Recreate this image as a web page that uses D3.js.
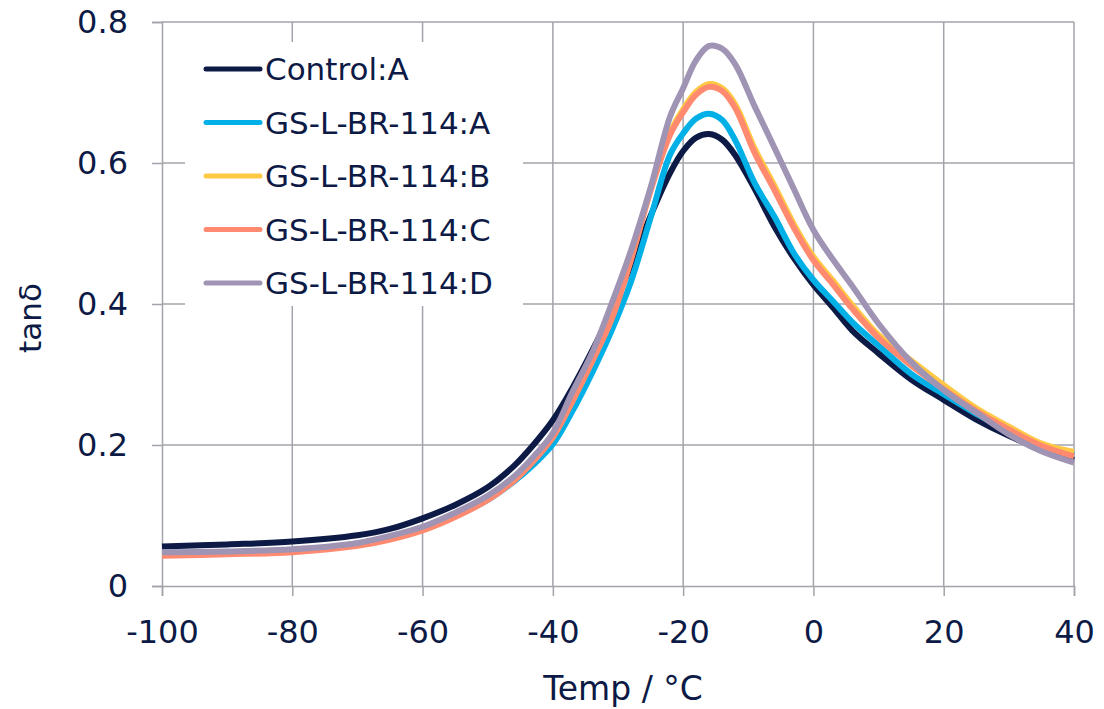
<!DOCTYPE html>
<html>
<head>
<meta charset="utf-8">
<script src="https://cdn.jsdelivr.net/npm/d3@7"></script>
<style>
  body { margin: 0; background: #fff; }
  text { font-family: "DejaVu Sans", sans-serif; fill: #0c1a45; }
</style>
</head>
<body>
<script>
// temperatures (°C) shared by every series
const temps = [-100, -90, -80, -70, -65, -60, -55, -50, -46, -43, -40, -37, -34, -31, -28, -25, -22, -20, -18, -16, -14, -12, -9, -6, -3, 0, 3, 6, 10, 15, 20, 25, 30, 35, 40];

// tan delta
const controlA = [0.056, 0.059, 0.063, 0.072, 0.081, 0.096, 0.115, 0.140, 0.170, 0.200, 0.235, 0.281, 0.333, 0.390, 0.455, 0.525, 0.586, 0.617, 0.636, 0.641, 0.633, 0.611, 0.563, 0.510, 0.465, 0.427, 0.395, 0.362, 0.330, 0.293, 0.264, 0.236, 0.213, 0.194, 0.179];
const gsA = [0.047, 0.048, 0.051, 0.059, 0.068, 0.081, 0.099, 0.122, 0.148, 0.172, 0.201, 0.248, 0.302, 0.362, 0.432, 0.522, 0.612, 0.642, 0.663, 0.670, 0.661, 0.632, 0.571, 0.524, 0.472, 0.434, 0.404, 0.374, 0.341, 0.301, 0.272, 0.244, 0.220, 0.200, 0.186];
const gsB = [0.045, 0.047, 0.050, 0.058, 0.067, 0.080, 0.099, 0.123, 0.150, 0.178, 0.212, 0.263, 0.319, 0.380, 0.465, 0.563, 0.643, 0.676, 0.701, 0.712, 0.706, 0.683, 0.620, 0.568, 0.513, 0.467, 0.433, 0.398, 0.356, 0.320, 0.285, 0.252, 0.226, 0.202, 0.190];
const gsC = [0.043, 0.045, 0.048, 0.057, 0.066, 0.079, 0.098, 0.122, 0.149, 0.177, 0.211, 0.262, 0.318, 0.378, 0.463, 0.561, 0.640, 0.672, 0.697, 0.708, 0.702, 0.678, 0.614, 0.562, 0.508, 0.462, 0.428, 0.393, 0.352, 0.313, 0.279, 0.248, 0.222, 0.199, 0.184];
const gsD = [0.048, 0.049, 0.052, 0.061, 0.071, 0.084, 0.104, 0.128, 0.155, 0.183, 0.217, 0.275, 0.330, 0.400, 0.476, 0.565, 0.666, 0.706, 0.746, 0.766, 0.762, 0.740, 0.680, 0.622, 0.563, 0.505, 0.463, 0.425, 0.372, 0.318, 0.278, 0.246, 0.215, 0.191, 0.175];

const seriesNames = ["Control:A", "GS-L-BR-114:A", "GS-L-BR-114:B", "GS-L-BR-114:C", "GS-L-BR-114:D"];
const seriesValues = [controlA, gsA, gsB, gsC, gsD];
const seriesColors = ["#0c1a45", "#00b0e6", "#ffc845", "#ff8a70", "#a094b4"];

const xTicks = [-100, -80, -60, -40, -20, 0, 20, 40];
const yTicks = [0, 0.2, 0.4, 0.6, 0.8];

const width = 1104, height = 709;
const margin = {top: 22, right: 30, bottom: 123, left: 162};

const svg = d3.select("body").append("svg")
    .attr("width", width)
    .attr("height", height);

const x = d3.scaleLinear().domain([-100, 40]).range([margin.left, width - margin.right]);
const y = d3.scaleLinear().domain([0, 0.8]).range([height - margin.bottom, margin.top]);

const grid = "#a3a3ab";

// gridlines
svg.append("g")
  .selectAll("line")
  .data(xTicks.slice(1))
  .join("line")
    .attr("x1", d => x(d)).attr("x2", d => x(d))
    .attr("y1", y(0)).attr("y2", y(0.8))
    .attr("stroke", grid).attr("stroke-width", 1.5);

svg.append("g")
  .selectAll("line")
  .data(yTicks.slice(1))
  .join("line")
    .attr("x1", x(-100)).attr("x2", x(40))
    .attr("y1", d => y(d)).attr("y2", d => y(d))
    .attr("stroke", grid).attr("stroke-width", 1.5);

// axes
const xAxis = g => g
    .attr("transform", `translate(0,${y(0)})`)
    .call(d3.axisBottom(x).tickValues(xTicks).tickSize(10).tickPadding(24).tickFormat(d => String(d)))
    .call(g => g.selectAll("path, line").attr("stroke", grid).attr("stroke-width", 1.5))
    .call(g => g.selectAll("text").attr("font-size", 32).attr("fill", "#0c1a45"));

const yAxis = g => g
    .attr("transform", `translate(${x(-100)},0)`)
    .call(d3.axisLeft(y).tickValues(yTicks).tickSize(10).tickPadding(24).tickFormat(d => d === 0 ? "0" : d3.format(".1f")(d)))
    .call(g => g.selectAll("path, line").attr("stroke", grid).attr("stroke-width", 1.5))
    .call(g => g.selectAll("text").attr("font-size", 32).attr("fill", "#0c1a45"));

svg.append("g").call(xAxis).attr("font-family", null);
svg.append("g").call(yAxis).attr("font-family", null);

// axis titles
svg.append("text")
    .attr("x", (x(-100) + x(40)) / 2 + 5)
    .attr("y", 700)
    .attr("text-anchor", "middle")
    .attr("font-size", 33)
    .text("Temp / °C");

svg.append("text")
    .attr("transform", `translate(41,${y(0.4) + 14}) rotate(-90)`)
    .attr("text-anchor", "middle")
    .attr("font-size", 31)
    .text("tanδ");

// legend backdrop
svg.append("rect")
    .attr("x", 185).attr("y", 42)
    .attr("width", 338).attr("height", 264)
    .attr("fill", "#fff");

// series
const line = d3.line()
    .x((d, i) => x(temps[i]))
    .y(d => y(d))
    .curve(d3.curveCatmullRom.alpha(0.5));

svg.append("g")
  .selectAll("path")
  .data(seriesValues)
  .join("path")
    .attr("d", line)
    .attr("fill", "none")
    .attr("stroke", (d, i) => seriesColors[i])
    .attr("stroke-width", 6)
    .attr("stroke-linejoin", "round");

// legend
const legend = svg.append("g")
  .selectAll("g")
  .data(seriesNames)
  .join("g")
    .attr("transform", (d, i) => `translate(206,${69 + i * 53.5})`);

legend.append("line")
    .attr("x1", 0).attr("x2", 54)
    .attr("stroke", (d, i) => seriesColors[i])
    .attr("stroke-width", 5)
    .attr("stroke-linecap", "round");

legend.append("text")
    .attr("x", 59)
    .attr("y", 11)
    .attr("font-size", 31)
    .text(d => d);
</script>
</body>
</html>
